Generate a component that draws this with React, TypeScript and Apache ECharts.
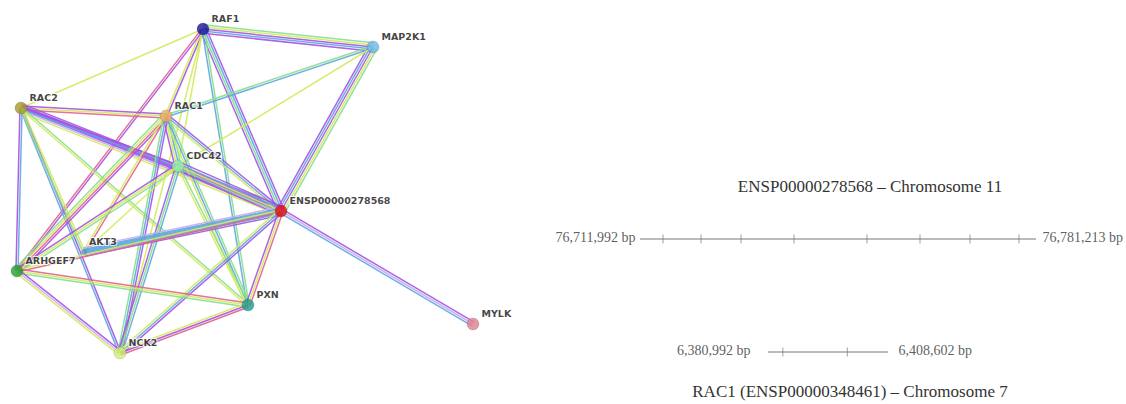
import React, { useEffect, useRef } from 'react';
import * as echarts from 'echarts';

// ---- Network data ----
const nodeNames = ['RAF1', 'MAP2K1', 'RAC2', 'RAC1', 'CDC42', 'ENSP00000278568', 'AKT3', 'ARHGEF7', 'PXN', 'NCK2', 'MYLK'];
const nodeX = [203, 373, 21, 166, 178, 281, 84, 17, 248, 120, 473];
const nodeY = [29, 47, 108, 116, 166, 211, 252, 271, 305, 353, 324];
const nodeColors = ['#14149e', '#6cb6ea', '#a6992a', '#f0ae62', '#94f0a8', '#e40d0d', '#5b9bd5', '#22a032', '#1f9e8c', '#cdf074', '#e0808e'];

// evidence channel codes (upper case = thin strand, lower case = filled band)
const evidencePalette: Record<string, string> = {
  P: '#a452e2',
  Y: '#d4ea5c',
  B: '#5ea6e0',
  G: '#86de8e',
  R: '#e0648e',
  L: '#c6a8f2',
};

const edgeFrom = [
  'RAF1', 'RAF1', 'RAF1', 'RAF1', 'RAF1', 'RAF1', 'RAF1', 'RAF1',
  'MAP2K1', 'MAP2K1', 'MAP2K1',
  'RAC2', 'RAC2', 'RAC2', 'RAC2', 'RAC2', 'RAC2', 'RAC2',
  'RAC1', 'RAC1', 'RAC1', 'RAC1', 'RAC1', 'RAC1',
  'CDC42', 'CDC42', 'CDC42', 'CDC42', 'CDC42',
  'ENSP00000278568', 'ENSP00000278568', 'ENSP00000278568', 'ENSP00000278568', 'ENSP00000278568',
  'ARHGEF7', 'ARHGEF7', 'PXN',
];
const edgeTo = [
  'MAP2K1', 'RAC2', 'RAC1', 'CDC42', 'ENSP00000278568', 'PXN', 'ARHGEF7', 'NCK2',
  'ENSP00000278568', 'RAC1', 'CDC42',
  'RAC1', 'ENSP00000278568', 'CDC42', 'ARHGEF7', 'NCK2', 'PXN', 'AKT3',
  'CDC42', 'ENSP00000278568', 'PXN', 'ARHGEF7', 'AKT3', 'NCK2',
  'ENSP00000278568', 'ARHGEF7', 'PXN', 'NCK2', 'AKT3',
  'AKT3', 'ARHGEF7', 'PXN', 'NCK2', 'MYLK',
  'PXN', 'NCK2', 'NCK2',
];
const edgeEvidence = [
  'GYPBP', 'Y', 'PY', 'Y', 'PBGP', 'GB', 'PR', 'Y',
  'GYPBP', 'BG', 'Y',
  'PYR', 'PppLY', 'PB', 'BP', 'PB', 'GY', 'YG',
  'GBYP', 'PBY', 'GBY', 'PRYG', 'RY', 'PBG',
  'PBYGP', 'GYP', 'GY', 'BGP', 'Y',
  'PbbbL', 'RY', 'RYP', 'PBY', 'PLB',
  'RYG', 'PLY', 'RPY',
];

// ---- Chromosome data ----
const chr11Title = 'ENSP00000278568 – Chromosome 11';
const chr11Start = 76711992;
const chr11End = 76781213;
const chr11Ticks = [76716012, 76722655, 76729647, 76738911, 76751672, 76760936, 76769676, 76778241];

const chr7Title = 'RAC1 (ENSP00000348461) – Chromosome 7';
const chr7Start = 6380992;
const chr7End = 6408602;
const chr7Ticks = [6384415, 6399246];

const bp = (n: number) => n.toLocaleString('en-US') + ' bp';
const idx = (name: string) => nodeNames.indexOf(name);

export default function App() {
  const ref = useRef<HTMLDivElement>(null);
  useEffect(() => {
    document.body.style.margin = '0';
    const chart = echarts.init(ref.current!, null, { renderer: 'svg' });
    const edgeData = edgeFrom.map((f, i) => {
      const a = idx(f);
      const b = idx(edgeTo[i]);
      return [nodeX[a], nodeY[a], nodeX[b], nodeY[b], i];
    });
    const serif = 'Liberation Serif';
    const labelCommon = { color: '#333', fontFamily: serif, fontSize: 14, offset: [0, -2] };
    const option: any = {
      animation: false,
      backgroundColor: '#fff',
      grid: [
        { left: 0, top: 0, width: 1126, height: 404 },
        { left: 640, top: 234, width: 396, height: 10 },
        { left: 768, top: 347, width: 120, height: 10 },
      ],
      xAxis: [
        { type: 'value', gridIndex: 0, min: 0, max: 1126, show: false },
        { type: 'value', gridIndex: 1, min: chr11Start, max: chr11End, show: false },
        { type: 'value', gridIndex: 2, min: chr7Start, max: chr7End, show: false },
      ],
      yAxis: [
        { type: 'value', gridIndex: 0, min: 0, max: 404, inverse: true, show: false },
        { type: 'value', gridIndex: 1, min: -1, max: 1, show: false },
        { type: 'value', gridIndex: 2, min: -1, max: 1, show: false },
      ],
      graphic: [
        {
          type: 'text', x: 870, y: 186,
          style: { text: chr11Title, textAlign: 'center', textVerticalAlign: 'middle', fill: '#333', fontFamily: serif, fontSize: 17 },
        },
        {
          type: 'text', x: 850, y: 391,
          style: { text: chr7Title, textAlign: 'center', textVerticalAlign: 'middle', fill: '#333', fontFamily: serif, fontSize: 17 },
        },
      ],
      series: [
        {
          type: 'custom',
          xAxisIndex: 0,
          yAxisIndex: 0,
          data: edgeData,
          encode: { x: [0, 2], y: [1, 3] },
          silent: true,
          z: 1,
          renderItem: (_params: any, api: any) => {
            const i = api.value(4);
            const p1 = api.coord([api.value(0), api.value(1)]);
            const p2 = api.coord([api.value(2), api.value(3)]);
            const dx = p2[0] - p1[0];
            const dy = p2[1] - p1[1];
            const len = Math.hypot(dx, dy) || 1;
            const nx = -dy / len;
            const ny = dx / len;
            const ev = edgeEvidence[i].split('');
            const n = ev.length;
            const spacing = 2.1;
            return {
              type: 'group',
              children: ev.map((c, k) => {
                const off = (k - (n - 1) / 2) * spacing;
                const filled = c === c.toLowerCase();
                return {
                  type: 'line',
                  shape: {
                    x1: p1[0] + nx * off, y1: p1[1] + ny * off,
                    x2: p2[0] + nx * off, y2: p2[1] + ny * off,
                  },
                  style: {
                    stroke: evidencePalette[c.toUpperCase()],
                    lineWidth: filled ? spacing + 0.4 : 1.5,
                    opacity: 0.9,
                  },
                };
              }),
            };
          },
        },
        {
          type: 'scatter',
          xAxisIndex: 0,
          yAxisIndex: 0,
          z: 5,
          data: nodeNames.map((name, i) => ({
            name,
            value: [nodeX[i], nodeY[i]],
            symbolSize: name === 'AKT3' ? 5 : 12,
            itemStyle: { color: nodeColors[i], borderColor: 'rgba(0,0,0,0.15)', borderWidth: 1 },
          })),
          label: {
            show: true,
            position: 'right',
            distance: 2,
            offset: [0, -11],
            formatter: '{b}',
            fontFamily: 'DejaVu Sans',
            fontWeight: 'bold',
            fontSize: 9.5,
            color: '#111',
            textBorderColor: '#fff',
            textBorderWidth: 2,
          },
        },
        // chromosome 11
        {
          type: 'line',
          xAxisIndex: 1,
          yAxisIndex: 1,
          data: [[chr11Start, 0], [chr11End, 0]],
          symbol: 'none',
          lineStyle: { color: '#777', width: 1 },
        },
        {
          type: 'scatter',
          xAxisIndex: 1,
          yAxisIndex: 1,
          symbol: 'rect',
          symbolSize: [1, 9],
          itemStyle: { color: '#888' },
          data: chr11Ticks.map((t) => [t, 0]),
        },
        {
          type: 'scatter',
          xAxisIndex: 1,
          yAxisIndex: 1,
          symbolSize: 1,
          itemStyle: { color: 'transparent' },
          data: [
            { value: [chr11Start, 0], label: { show: true, position: 'left', distance: 4, formatter: bp(chr11Start), ...labelCommon } },
            { value: [chr11End, 0], label: { show: true, position: 'right', distance: 6, formatter: bp(chr11End), ...labelCommon } },
          ],
        },
        // chromosome 7
        {
          type: 'line',
          xAxisIndex: 2,
          yAxisIndex: 2,
          data: [[chr7Start, 0], [chr7End, 0]],
          symbol: 'none',
          lineStyle: { color: '#777', width: 1 },
        },
        {
          type: 'scatter',
          xAxisIndex: 2,
          yAxisIndex: 2,
          symbol: 'rect',
          symbolSize: [1, 9],
          itemStyle: { color: '#888' },
          data: chr7Ticks.map((t) => [t, 0]),
        },
        {
          type: 'scatter',
          xAxisIndex: 2,
          yAxisIndex: 2,
          symbolSize: 1,
          itemStyle: { color: 'transparent' },
          data: [
            { value: [chr7Start, 0], label: { show: true, position: 'left', distance: 17, formatter: bp(chr7Start), ...labelCommon } },
            { value: [chr7End, 0], label: { show: true, position: 'right', distance: 10, formatter: bp(chr7End), ...labelCommon } },
          ],
        },
      ],
    };
    chart.setOption(option);
    return () => chart.dispose();
  }, []);
  return <div ref={ref} style={{ width: 1126, height: 404 }} />;
}
